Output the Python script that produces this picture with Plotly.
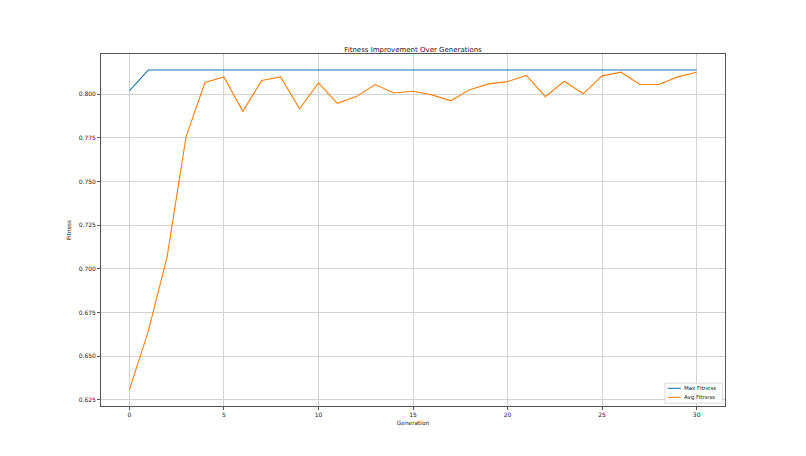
import plotly.graph_objects as go

# values
generations = list(range(31))
max_fitness = [0.8019] + [0.8138] * 30
avg_fitness = [
    0.6307, 0.6642, 0.7072, 0.7757, 0.8067, 0.8099, 0.7902, 0.8078, 0.8099, 0.7916,
    0.8065, 0.7948, 0.7986, 0.8055, 0.8007, 0.8017, 0.7996, 0.7962, 0.8026, 0.8059,
    0.8072, 0.8107, 0.7986, 0.8074, 0.8002, 0.8105, 0.8126, 0.8055, 0.8055, 0.8099,
    0.8126,
]
y_ticks = [0.625, 0.650, 0.675, 0.700, 0.725, 0.750, 0.775, 0.800]
x_ticks = [0, 5, 10, 15, 20, 25, 30]
series_names = ['Max Fitness', 'Avg Fitness']
series_colors = ['#1f77b4', '#ff7f0e']

fig = go.Figure()
for name, ys, col in zip(series_names, [max_fitness, avg_fitness], series_colors):
    fig.add_trace(go.Scatter(x=generations, y=ys, mode='lines', name=name,
                             line=dict(color=col, width=1.1), showlegend=False))

# small matplotlib-style legend drawn by hand (plotly's own is too wide)
fig.add_shape(type='rect', xref='paper', yref='paper', x0=0.904, x1=0.996, y0=0.008, y1=0.065,
              line=dict(color='#d0d0d0', width=0.8), fillcolor='rgba(255,255,255,0.8)')
for i, (name, col) in enumerate(zip(series_names, series_colors)):
    yy = 0.0503 - i * 0.0256
    fig.add_shape(type='line', xref='paper', yref='paper', x0=0.908, x1=0.929, y0=yy, y1=yy,
                  line=dict(color=col, width=1.1))
    fig.add_annotation(xref='paper', yref='paper', x=0.934, y=yy, text=name, showarrow=False,
                       xanchor='left', yanchor='middle', xshift=-2,
                       font=dict(size=5.5, color='#222222'))

axis_style = dict(
    showgrid=True, gridcolor='#d3d3d3', gridwidth=0.8,
    showline=True, linecolor='#555555', linewidth=0.8, mirror=True,
    ticks='outside', ticklen=3, tickcolor='#555555',
    zeroline=False, tickfont=dict(size=6, color='#222222'),
)

# the page adds an 8px offset, so margins are shifted to keep the axes where they belong
fig.update_layout(
    width=806, height=456,
    paper_bgcolor='white', plot_bgcolor='white',
    font=dict(family='DejaVu Sans', color='#222222'),
    margin=dict(l=93, r=89, t=46, b=58),
    title=dict(text='Fitness Improvement Over Generations', x=0.5, xref='paper',
               y=1, yref='paper', yanchor='bottom', pad=dict(b=2),
               font=dict(size=7, color='#222222')),
    xaxis=dict(range=[-1.5, 31.5], tickvals=x_ticks,
               title=dict(text='Generation', font=dict(size=5.8), standoff=3), **axis_style),
    yaxis=dict(range=[0.6215, 0.8230], tickvals=y_ticks, tickformat='.3f',
               title=dict(text='Fitness', font=dict(size=5.8), standoff=6), **axis_style),
)

fig.write_html("out.html")
